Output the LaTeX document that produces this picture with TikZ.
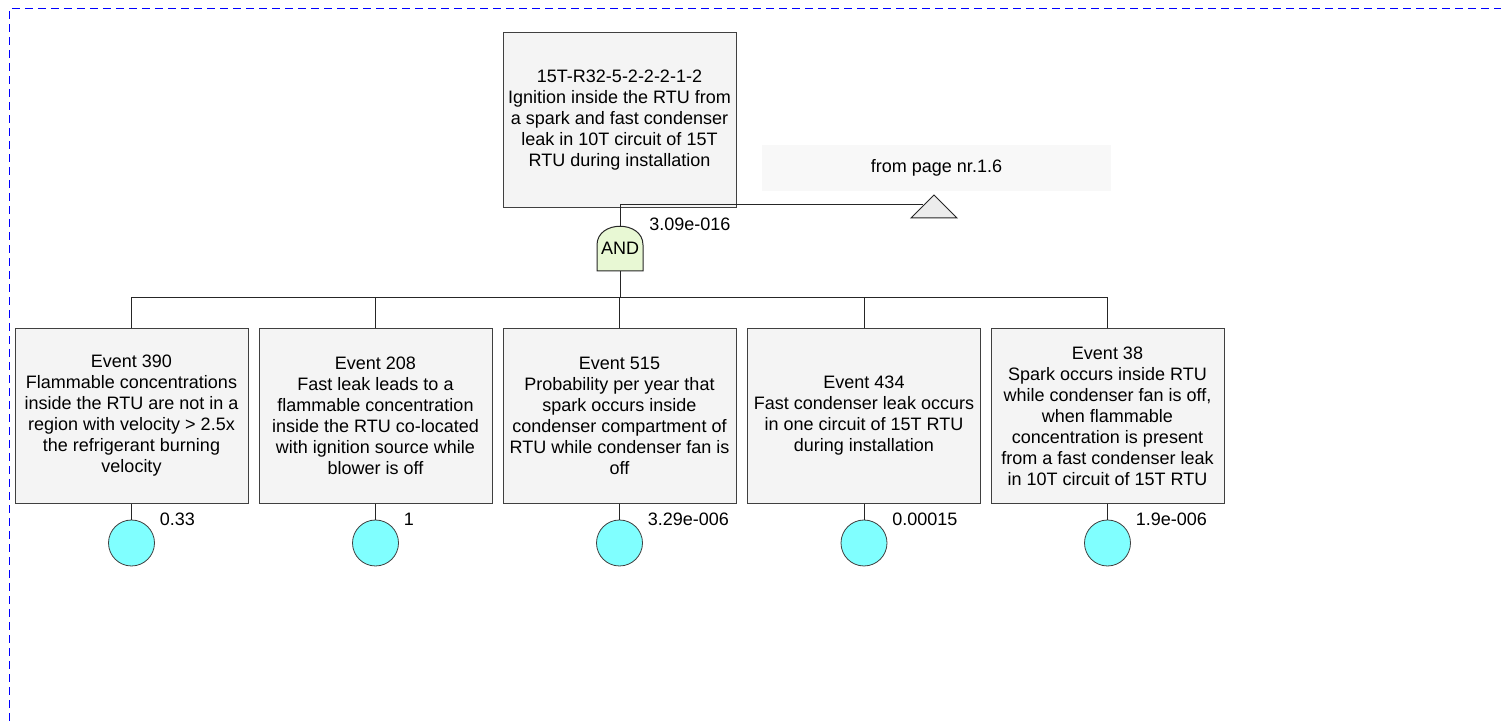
\documentclass[tikz,border=0pt]{standalone}
\usepackage{fontspec}
\setmainfont{Liberation Sans}
\usetikzlibrary{positioning}
\definecolor{evfill}{HTML}{F4F4F4}
\definecolor{evline}{HTML}{404040}
\definecolor{gatefill}{HTML}{E8F8D4}
\definecolor{basicfill}{HTML}{80FFFF}
\definecolor{pagefill}{HTML}{F8F8F8}
\begin{document}
\begin{tikzpicture}[x=0.5pt,y=-0.5pt,font=\fontsize{9}{10.5}\selectfont,
  evbox/.style={draw=evline,fill=evfill,minimum width=116.5pt,minimum height=87.5pt,align=center,inner sep=0.5pt},
  basic/.style={circle,draw=evline,fill=basicfill,minimum size=23pt,inner sep=0pt},
  prob/.style={anchor=west,inner sep=0pt},
  link/.style={draw=black!85,line width=0.5pt}]
\useasboundingbox (0,0) rectangle (1501,721);
% page frame
\draw[blue,line width=0.5pt,dash pattern=on 4pt off 2.5pt] (9.5,721)--(9.5,8.5)--(1501,8.5);
% top event
\node[evbox] (top) at (619.5,120) {15T-R32-5-2-2-2-1-2\\Ignition inside the RTU from\\a spark and fast condenser\\leak in 10T circuit of 15T\\RTU during installation};
% and gate
\draw[link,fill=gatefill] (597,271)--(597,245) .. controls (597,220) and (643,220) .. (643,245)--(643,271)--cycle;
\node[inner sep=0pt,minimum width=23pt,minimum height=22.5pt] (gate) at (620,248.5) {AND};
\node[prob] (ptop) at (649,224) {3.09e-016};
% transfer in
\node[fill=pagefill,minimum width=174.5pt,minimum height=23pt] (page) at (936.5,168) {from page nr.1.6};
\draw[link,fill=gray!15] (911,218)--(934,195)--(957,218)--cycle;
\coordinate (xin) at (922.5,205);
\draw[link] (gate.north) |- (xin);
% basic events
\coordinate (bus) at (620,298);
\draw[link] (gate.south)--(bus);
\foreach \n/\x/\t/\p in {
  1/131.5/{Event 390\\Flammable concentrations\\inside the RTU are not in a\\region with velocity > 2.5x\\the refrigerant burning\\velocity}/0.33,
  2/375.5/{Event 208\\Fast leak leads to a\\flammable concentration\\inside the RTU co-located\\with ignition source while\\blower is off}/1,
  3/619.5/{Event 515\\Probability per year that\\spark occurs inside\\condenser compartment of\\RTU while condenser fan is\\off}/3.29e-006,
  4/864/{Event 434\\Fast condenser leak occurs\\in one circuit of 15T RTU\\during installation}/0.00015,
  5/1107.5/{Event 38\\Spark occurs inside RTU\\while condenser fan is off,\\when flammable\\concentration is present\\from a fast condenser leak\\in 10T circuit of 15T RTU}/1.9e-006} {
  \node[evbox] (ev\n) at (\x,416) {\t};
  \node[basic] (be\n) at (\x,543) {};
  \node[prob] (p\n) at (\x+28,519) {\p};
  \draw[link] (ev\n.north) |- (bus);
  \draw[link] (ev\n.south)--(be\n.north);
}
\end{tikzpicture}
\end{document}
